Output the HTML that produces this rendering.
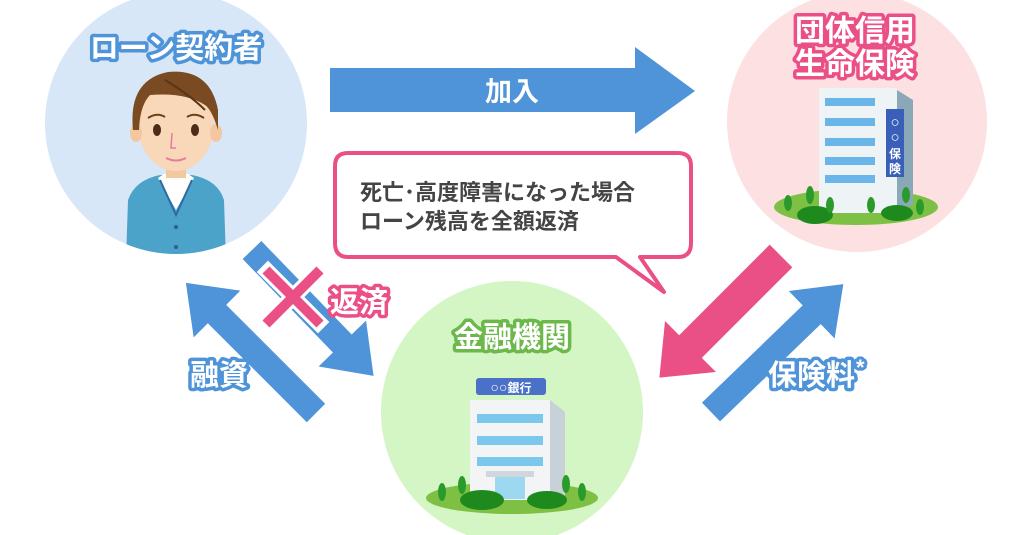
<!DOCTYPE html>
<html><head><meta charset="utf-8"><style>
html,body{margin:0;padding:0;background:#fff;width:1024px;height:535px;overflow:hidden}
svg{display:block}
.lbl{font-family:"Liberation Sans","Noto Sans CJK JP",sans-serif;font-weight:bold;fill:#fff;paint-order:stroke;stroke-linejoin:round}
</style></head><body>
<svg width="1024" height="535" viewBox="0 0 1024 535" xmlns="http://www.w3.org/2000/svg">
<defs>
<clipPath id="cl"><circle cx="176" cy="123" r="131"/></clipPath>
</defs>
<circle cx="176" cy="123" r="131" fill="#d7e7f8"/>
<circle cx="857" cy="122" r="130" fill="#fde0e2"/>
<circle cx="512" cy="412" r="131" fill="#d4f5c4"/>

<g clip-path="url(#cl)">
<path d="M128 200 Q135 180 160 175 L192 175 Q218 180 224 200 L226 260 L126 260 Z" fill="#4ba3c9"/>
<path d="M158 178 L176 210 L194 178 L188 174 L164 174 Z" fill="#fff"/>
<path d="M160 180 L176 215 L192 180" fill="none" stroke="#2d6aa0" stroke-width="2"/>
<circle cx="176" cy="227" r="2" fill="#2d5f90"/><circle cx="176" cy="247" r="2" fill="#2d5f90"/>
<rect x="166" y="160" width="20" height="18" fill="#f3c7a0"/>
<ellipse cx="176" cy="125" rx="38" ry="46" fill="#f8d8b8"/>
<ellipse cx="136" cy="133" rx="6" ry="9" fill="#f3c7a0"/><ellipse cx="216" cy="133" rx="6" ry="9" fill="#f3c7a0"/>
<path d="M133 130 Q128 80 168 72 Q210 68 218 110 L218 130 Q212 110 205 105 Q185 92 150 95 Q140 105 139 130 Z" fill="#7a4a22"/>
<path d="M165 80 Q190 95 205 110" stroke="#5a3418" stroke-width="2" fill="none"/>
<ellipse cx="157" cy="130" rx="4" ry="6" fill="#4a2c18"/><ellipse cx="195" cy="130" rx="4" ry="6" fill="#4a2c18"/>
<path d="M148 118 Q157 112 165 117 M187 117 Q195 112 204 118" stroke="#6b3e1e" stroke-width="2" fill="none"/>
<path d="M172 133 L171 148 L176 148" stroke="#e87aa0" stroke-width="1.5" fill="none"/>
<path d="M166 158 Q176 163 186 158" stroke="#e87aa0" stroke-width="2" fill="none"/>
</g>

<ellipse cx="856" cy="207" rx="82" ry="18" fill="#7ec043"/>
<polygon points="897,90 913,100 913,205 897,210" fill="#8aa8b8"/>
<rect x="819" y="88" width="78" height="125" fill="#eef3f6"/>
<g fill="#6bb6e8">
<rect x="825" y="98" width="50" height="8"/><rect x="825" y="118" width="50" height="8"/><rect x="825" y="138" width="50" height="8"/><rect x="825" y="157" width="50" height="8"/><rect x="825" y="175" width="50" height="8"/></g>
<rect x="886" y="109" width="18" height="68" fill="#3a5fb8"/>
<text x="895" y="127" font-size="15" fill="#fff" text-anchor="middle" font-family="Liberation Sans,Noto Sans CJK JP,sans-serif">○</text>
<text x="895" y="142" font-size="15" fill="#fff" text-anchor="middle" font-family="Liberation Sans,Noto Sans CJK JP,sans-serif">○</text>
<text x="895" y="158" font-size="12" fill="#fff" text-anchor="middle" font-weight="bold" font-family="Liberation Sans,Noto Sans CJK JP,sans-serif">保</text>
<text x="895" y="173" font-size="12" fill="#fff" text-anchor="middle" font-weight="bold" font-family="Liberation Sans,Noto Sans CJK JP,sans-serif">険</text>
<ellipse cx="815" cy="215" rx="18" ry="9" fill="#1e8a1e"/><ellipse cx="897" cy="213" rx="16" ry="8" fill="#1e8a1e"/>
<g fill="#2a9a2a"><ellipse cx="810" cy="195" rx="4" ry="9"/><ellipse cx="830" cy="205" rx="4" ry="8"/><ellipse cx="871" cy="205" rx="4" ry="8"/><ellipse cx="906" cy="195" rx="4" ry="8"/><ellipse cx="920" cy="207" rx="4" ry="8"/><ellipse cx="788" cy="203" rx="4" ry="8"/></g>

<ellipse cx="512" cy="498" rx="86" ry="16" fill="#7ec043"/>
<polygon points="550,400 565,412 565,500 550,500" fill="#c8d0d8"/>
<rect x="470" y="400" width="80" height="100" fill="#f2f4f6"/>
<g fill="#7cc8ec"><rect x="477" y="414" width="66" height="9"/><rect x="477" y="436" width="66" height="9"/><rect x="477" y="457" width="66" height="9"/></g>
<rect x="486" y="471" width="48" height="6" fill="#d0d6dc"/>
<rect x="495" y="477" width="30" height="22" fill="#9cd8f0"/>
<rect x="476" y="378" width="70" height="17" rx="3" fill="#4a70c8"/>
<text x="511" y="392" font-size="14" fill="#fff" text-anchor="middle" font-family="Liberation Sans,Noto Sans CJK JP,sans-serif">○○<tspan font-size="12" font-weight="bold">銀行</tspan></text>
<ellipse cx="482" cy="500" rx="22" ry="10" fill="#1e8a1e"/><ellipse cx="547" cy="500" rx="20" ry="9" fill="#1e8a1e"/>
<g fill="#2a9a2a"><ellipse cx="442" cy="492" rx="4" ry="9"/><ellipse cx="462" cy="485" rx="4" ry="9"/><ellipse cx="566" cy="484" rx="4" ry="9"/><ellipse cx="582" cy="492" rx="4" ry="9"/></g>

<polygon points="330,68 635,68 635,47 695,91 635,134 635,112 330,112" fill="#4f94d8"/>
<text x="512" y="101" font-size="27" class="lbl" text-anchor="middle">加入</text>

<g fill="#4f94d8">
<polygon transform="translate(316,413) rotate(-135)" points="0,-13 140,-13 140,-33 184,0 140,33 140,13 0,13"/>
<polygon transform="translate(252,250) rotate(46)" points="0,-13 130,-13 130,-33 175,0 130,33 130,13 0,13"/>
<polygon transform="translate(711,412) rotate(-44)" points="0,-13 140,-13 140,-33 184,0 140,33 140,13 0,13"/>
</g>
<polygon transform="translate(781,256) rotate(135)" points="0,-16 128,-16 128,-36 172,0 128,36 128,16 0,16" fill="#ea4f86"/>

<g stroke="#fff" stroke-width="16" stroke-linecap="square"><line x1="268" y1="272" x2="318" y2="322"/><line x1="318" y1="272" x2="268" y2="322"/></g>
<g stroke="#ea4f86" stroke-width="10"><line x1="266" y1="270" x2="320" y2="324"/><line x1="320" y1="270" x2="266" y2="324"/></g>

<path d="M348 153 H678 Q691 153 691 166 V243 Q691 257 678 257 H640 L664 292 L616 257 H348 Q335 257 335 243 V166 Q335 153 348 153 Z" fill="#fff" stroke="#ea4f86" stroke-width="4" stroke-linejoin="round"/>
<text x="360" y="200" font-size="22" fill="#444" font-family="Liberation Sans,Noto Sans CJK JP,sans-serif" font-weight="bold">死亡･高度障害になった場合</text>
<text x="360" y="229" font-size="22" fill="#444" font-family="Liberation Sans,Noto Sans CJK JP,sans-serif" font-weight="bold">ローン残高を全額返済</text>

<text x="176" y="58" font-size="29" class="lbl" text-anchor="middle" stroke="#4f94d8" stroke-width="7">ローン契約者</text>
<text x="855" y="41" font-size="30" class="lbl" text-anchor="middle" stroke="#ea4f86" stroke-width="7">団体信用</text>
<text x="855" y="74" font-size="30" class="lbl" text-anchor="middle" stroke="#ea4f86" stroke-width="7">生命保険</text>
<text x="512" y="347" font-size="29" class="lbl" text-anchor="middle" stroke="#6cb84a" stroke-width="7">金融機関</text>
<text x="330" y="312" font-size="29" class="lbl" stroke="#ea4f86" stroke-width="7">返済</text>
<text x="190" y="385" font-size="29" class="lbl" stroke="#4f94d8" stroke-width="7">融資</text>
<text x="768" y="385" font-size="29" class="lbl" stroke="#4f94d8" stroke-width="7">保険料</text>
<text x="856" y="375" font-size="22" class="lbl" stroke="#4f94d8" stroke-width="6">*</text>
</svg>
</body></html>
